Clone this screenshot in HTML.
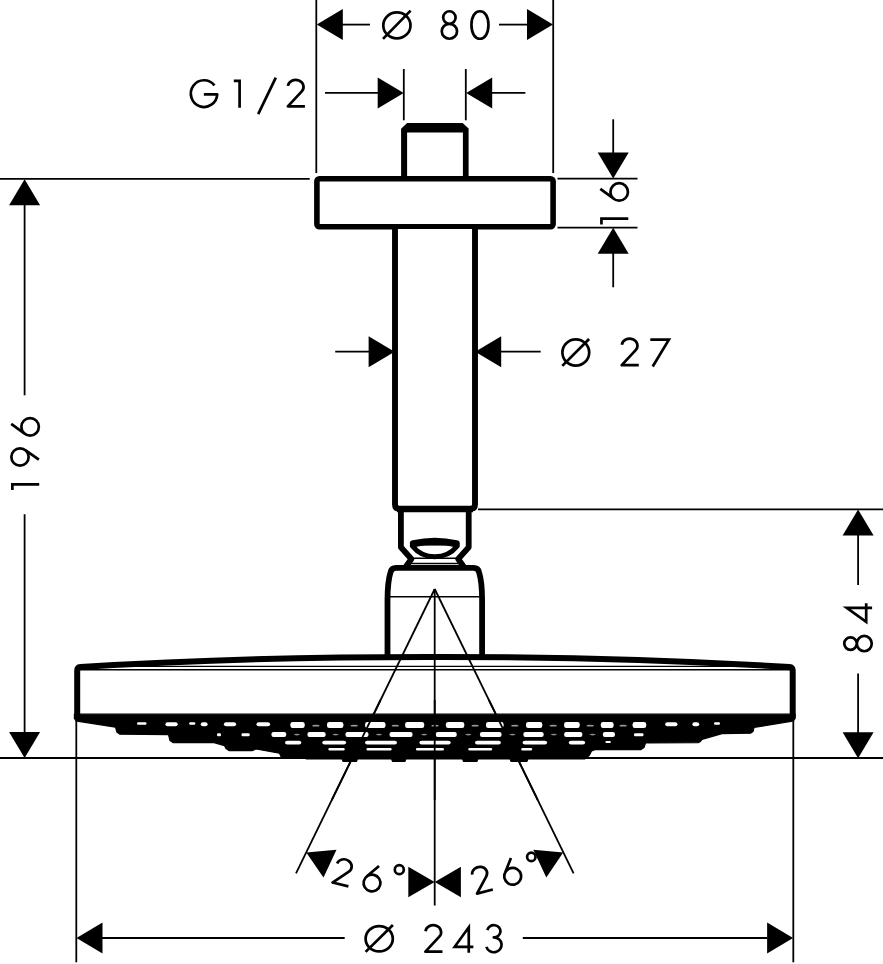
<!DOCTYPE html>
<html><head><meta charset="utf-8"><title>Dimension drawing</title>
<style>
html,body{margin:0;padding:0;background:#fff;}
body{width:883px;height:964px;overflow:hidden;font-family:"Liberation Sans",sans-serif;}
svg{display:block;}
</style></head><body>
<svg width="883" height="964" viewBox="0 0 883 964" role="img" aria-label="Dimension drawing of ceiling-mounted overhead shower">
<title>Overhead shower dimension drawing</title>
<desc>Dimensions: diameter 80, G1/2, 16, diameter 27, 196, 84, 26 degrees, 26 degrees, diameter 243</desc>
<line x1="316.30" y1="0.00" x2="316.30" y2="173.00" stroke="#000" stroke-width="1.8" stroke-linecap="butt"/>
<line x1="553.20" y1="0.00" x2="553.20" y2="173.00" stroke="#000" stroke-width="1.8" stroke-linecap="butt"/>
<polygon points="316.80,24.60 342.80,9.10 342.80,40.10" fill="#000"/>
<line x1="342.00" y1="24.60" x2="370.00" y2="24.60" stroke="#000" stroke-width="1.8" stroke-linecap="butt"/>
<polygon points="553.00,24.60 527.00,40.10 527.00,9.10" fill="#000"/>
<line x1="499.00" y1="24.60" x2="527.50" y2="24.60" stroke="#000" stroke-width="1.8" stroke-linecap="butt"/>
<ellipse cx="396.9" cy="25.4" rx="13.6" ry="13.0" fill="none" stroke="#000" stroke-width="2.7"/>
<line x1="383.00" y1="38.90" x2="410.60" y2="10.60" stroke="#000" stroke-width="2.7" stroke-linecap="butt"/>
<path transform="translate(440.40,39.10) rotate(0.00)" d="M2.80,-21.58 C2.80,-25.04 5.58,-27.85 9.00,-27.85 C12.42,-27.85 15.20,-25.04 15.20,-21.58 C15.20,-18.11 12.42,-15.30 9.00,-15.30 C5.58,-15.30 2.80,-18.11 2.80,-21.58 Z M1.35,-7.83 C1.35,-11.95 4.77,-15.30 9.00,-15.30 C13.23,-15.30 16.65,-11.95 16.65,-7.83 C16.65,-3.70 13.23,-0.35 9.00,-0.35 C4.77,-0.35 1.35,-3.70 1.35,-7.83 Z" fill="none" stroke="#000" stroke-width="2.7" stroke-linecap="butt" stroke-linejoin="round" stroke-miterlimit="10"/>
<path transform="translate(470.10,39.10) rotate(0.00)" d="M1.35,-14.10 C1.35,-22.35 4.75,-27.85 9.85,-27.85 C14.95,-27.85 18.35,-22.35 18.35,-14.10 C18.35,-5.85 14.95,-0.35 9.85,-0.35 C4.75,-0.35 1.35,-5.85 1.35,-14.10 Z" fill="none" stroke="#000" stroke-width="2.7" stroke-linecap="butt" stroke-linejoin="round" stroke-miterlimit="10"/>
<line x1="403.80" y1="69.00" x2="403.80" y2="120.30" stroke="#000" stroke-width="1.8" stroke-linecap="butt"/>
<line x1="465.80" y1="69.00" x2="465.80" y2="120.30" stroke="#000" stroke-width="1.8" stroke-linecap="butt"/>
<line x1="325.00" y1="92.90" x2="378.00" y2="92.90" stroke="#000" stroke-width="1.8" stroke-linecap="butt"/>
<polygon points="403.70,92.90 377.70,108.40 377.70,77.40" fill="#000"/>
<polygon points="466.20,92.90 492.20,77.40 492.20,108.40" fill="#000"/>
<line x1="491.00" y1="92.90" x2="525.40" y2="92.90" stroke="#000" stroke-width="1.8" stroke-linecap="butt"/>
<path transform="translate(189.50,107.70) rotate(0.00)" d="M24.95,-22.32 A13.2,13.35 0 1 0 27.73,-13.30 H14.35" fill="none" stroke="#000" stroke-width="2.7" stroke-linecap="butt" stroke-linejoin="round" stroke-miterlimit="10"/>
<path transform="translate(233.60,107.70) rotate(0.00)" d="M0.2,-26.85 H6 V0" fill="none" stroke="#000" stroke-width="2.7" stroke-linecap="butt" stroke-linejoin="miter" stroke-miterlimit="10"/>
<line x1="258.20" y1="114.20" x2="275.80" y2="77.60" stroke="#000" stroke-width="2.7" stroke-linecap="butt"/>
<path transform="translate(286.50,107.70) rotate(0.00)" d="M1.43,-21.82 A7.85,7.0 0 1 1 15.26,-16.40 L1.35,-1.35 H18.4" fill="none" stroke="#000" stroke-width="2.7" stroke-linecap="butt" stroke-linejoin="round" stroke-miterlimit="10"/>
<line x1="0.00" y1="178.80" x2="309.70" y2="178.80" stroke="#000" stroke-width="1.8" stroke-linecap="butt"/>
<line x1="557.50" y1="178.70" x2="637.50" y2="178.70" stroke="#000" stroke-width="1.8" stroke-linecap="butt"/>
<line x1="557.50" y1="227.60" x2="637.50" y2="227.60" stroke="#000" stroke-width="1.8" stroke-linecap="butt"/>
<line x1="613.20" y1="119.30" x2="613.20" y2="153.50" stroke="#000" stroke-width="1.8" stroke-linecap="butt"/>
<polygon points="613.20,178.60 597.70,152.60 628.70,152.60" fill="#000"/>
<polygon points="613.20,227.80 628.70,253.80 597.70,253.80" fill="#000"/>
<line x1="613.20" y1="253.00" x2="613.20" y2="287.30" stroke="#000" stroke-width="1.8" stroke-linecap="butt"/>
<path transform="translate(628.30,224.70) rotate(-90.00)" d="M0.2,-26.85 H6 V0" fill="none" stroke="#000" stroke-width="2.7" stroke-linecap="butt" stroke-linejoin="miter" stroke-miterlimit="10"/>
<path transform="translate(628.30,202.00) rotate(-90.00)" d="M13.10,-28.00 L3.04,-14.27 M1.35,-9.10 C1.35,-13.93 5.27,-17.85 10.10,-17.85 C14.93,-17.85 18.85,-13.93 18.85,-9.10 C18.85,-4.27 14.93,-0.35 10.10,-0.35 C5.27,-0.35 1.35,-4.27 1.35,-9.10 Z" fill="none" stroke="#000" stroke-width="2.7" stroke-linecap="butt" stroke-linejoin="round" stroke-miterlimit="10"/>
<polygon points="24.60,179.20 40.10,205.20 9.10,205.20" fill="#000"/>
<line x1="24.60" y1="204.00" x2="24.60" y2="395.30" stroke="#000" stroke-width="1.8" stroke-linecap="butt"/>
<line x1="24.60" y1="514.20" x2="24.60" y2="733.00" stroke="#000" stroke-width="1.8" stroke-linecap="butt"/>
<polygon points="24.60,758.00 9.10,732.00 40.10,732.00" fill="#000"/>
<path transform="translate(39.20,490.30) rotate(-90.00)" d="M0.2,-26.85 H6 V0" fill="none" stroke="#000" stroke-width="2.7" stroke-linecap="butt" stroke-linejoin="miter" stroke-miterlimit="10"/>
<path transform="translate(39.20,467.00) rotate(-90.00)" d="M7.30,-0.30 L17.08,-14.23 M1.35,-19.20 C1.35,-23.98 5.22,-27.85 10.00,-27.85 C14.78,-27.85 18.65,-23.98 18.65,-19.20 C18.65,-14.42 14.78,-10.55 10.00,-10.55 C5.22,-10.55 1.35,-14.42 1.35,-19.20 Z" fill="none" stroke="#000" stroke-width="2.7" stroke-linecap="butt" stroke-linejoin="round" stroke-miterlimit="10"/>
<path transform="translate(39.20,436.90) rotate(-90.00)" d="M13.10,-28.00 L3.04,-14.27 M1.35,-9.10 C1.35,-13.93 5.27,-17.85 10.10,-17.85 C14.93,-17.85 18.85,-13.93 18.85,-9.10 C18.85,-4.27 14.93,-0.35 10.10,-0.35 C5.27,-0.35 1.35,-4.27 1.35,-9.10 Z" fill="none" stroke="#000" stroke-width="2.7" stroke-linecap="butt" stroke-linejoin="round" stroke-miterlimit="10"/>
<line x1="0.00" y1="758.00" x2="883.00" y2="758.00" stroke="#000" stroke-width="1.8" stroke-linecap="butt"/>
<line x1="335.20" y1="351.70" x2="369.50" y2="351.70" stroke="#000" stroke-width="1.8" stroke-linecap="butt"/>
<polygon points="394.60,351.70 368.60,367.20 368.60,336.20" fill="#000"/>
<polygon points="475.20,351.70 501.20,336.20 501.20,367.20" fill="#000"/>
<line x1="500.00" y1="351.70" x2="540.70" y2="351.70" stroke="#000" stroke-width="1.8" stroke-linecap="butt"/>
<ellipse cx="575.8" cy="352.5" rx="13.4" ry="13.2" fill="none" stroke="#000" stroke-width="2.7"/>
<line x1="562.30" y1="365.90" x2="589.10" y2="339.00" stroke="#000" stroke-width="2.7" stroke-linecap="butt"/>
<path transform="translate(620.40,366.50) rotate(0.00)" d="M1.43,-21.82 A7.85,7.0 0 1 1 15.26,-16.40 L1.35,-1.35 H18.4" fill="none" stroke="#000" stroke-width="2.7" stroke-linecap="butt" stroke-linejoin="round" stroke-miterlimit="10"/>
<path transform="translate(650.30,366.50) rotate(0.00)" d="M0,-26.85 H18.6 L2.4,0" fill="none" stroke="#000" stroke-width="2.7" stroke-linecap="butt" stroke-linejoin="miter" stroke-miterlimit="10"/>
<line x1="478.00" y1="509.30" x2="883.00" y2="509.30" stroke="#000" stroke-width="1.8" stroke-linecap="butt"/>
<polygon points="858.10,509.60 873.60,535.60 842.60,535.60" fill="#000"/>
<line x1="858.10" y1="535.00" x2="858.10" y2="584.90" stroke="#000" stroke-width="1.8" stroke-linecap="butt"/>
<line x1="858.10" y1="673.60" x2="858.10" y2="733.00" stroke="#000" stroke-width="1.8" stroke-linecap="butt"/>
<polygon points="858.10,758.20 842.60,732.20 873.60,732.20" fill="#000"/>
<path transform="translate(872.10,623.80) rotate(-90.00)" d="M16.0,0 V-25.4 L1.9,-5.9 H20.6" fill="none" stroke="#000" stroke-width="2.7" stroke-linecap="butt" stroke-linejoin="miter" stroke-miterlimit="10"/>
<path transform="translate(872.10,652.60) rotate(-90.00)" d="M2.80,-21.58 C2.80,-25.04 5.58,-27.85 9.00,-27.85 C12.42,-27.85 15.20,-25.04 15.20,-21.58 C15.20,-18.11 12.42,-15.30 9.00,-15.30 C5.58,-15.30 2.80,-18.11 2.80,-21.58 Z M1.35,-7.83 C1.35,-11.95 4.77,-15.30 9.00,-15.30 C13.23,-15.30 16.65,-11.95 16.65,-7.83 C16.65,-3.70 13.23,-0.35 9.00,-0.35 C4.77,-0.35 1.35,-3.70 1.35,-7.83 Z" fill="none" stroke="#000" stroke-width="2.7" stroke-linecap="butt" stroke-linejoin="round" stroke-miterlimit="10"/>
<line x1="76.30" y1="720.00" x2="76.30" y2="962.30" stroke="#000" stroke-width="1.8" stroke-linecap="butt"/>
<line x1="793.30" y1="720.00" x2="793.30" y2="962.30" stroke="#000" stroke-width="1.8" stroke-linecap="butt"/>
<polygon points="76.50,938.00 102.50,922.50 102.50,953.50" fill="#000"/>
<line x1="102.00" y1="938.00" x2="344.70" y2="938.00" stroke="#000" stroke-width="1.8" stroke-linecap="butt"/>
<line x1="522.80" y1="938.00" x2="767.50" y2="938.00" stroke="#000" stroke-width="1.8" stroke-linecap="butt"/>
<polygon points="793.10,938.00 767.10,953.50 767.10,922.50" fill="#000"/>
<ellipse cx="379.2" cy="938.8" rx="13.6" ry="12.65" fill="none" stroke="#000" stroke-width="2.7"/>
<line x1="365.60" y1="951.90" x2="392.90" y2="925.00" stroke="#000" stroke-width="2.7" stroke-linecap="butt"/>
<path transform="translate(424.06,953.05) rotate(0.00)" d="M1.43,-21.82 A7.85,7.0 0 1 1 15.26,-16.40 L1.35,-1.35 H18.4" fill="none" stroke="#000" stroke-width="2.7" stroke-linecap="butt" stroke-linejoin="round" stroke-miterlimit="10"/>
<path transform="translate(452.76,952.70) rotate(0.00)" d="M16.0,0 V-25.4 L1.9,-5.9 H20.6" fill="none" stroke="#000" stroke-width="2.7" stroke-linecap="butt" stroke-linejoin="miter" stroke-miterlimit="10"/>
<path transform="translate(484.70,952.70) rotate(0.00)" d="M2.6,-22.6 A6.65,6.1 0 1 1 9.1,-15.3 A7.75,7.43 0 1 1 1.7,-5.8" fill="none" stroke="#000" stroke-width="2.7" stroke-linecap="butt" stroke-linejoin="round" stroke-miterlimit="10"/>
<line x1="434.70" y1="589.00" x2="434.70" y2="905.60" stroke="#000" stroke-width="1.8" stroke-linecap="butt"/>
<line x1="434.70" y1="589.00" x2="296.00" y2="873.40" stroke="#000" stroke-width="1.8" stroke-linecap="butt"/>
<line x1="434.70" y1="589.00" x2="573.60" y2="873.40" stroke="#000" stroke-width="1.8" stroke-linecap="butt"/>
<polygon points="306.30,852.50 336.50,849.80 323.50,877.60" fill="#000"/>
<polygon points="563.20,852.50 533.30,849.80 546.30,877.60" fill="#000"/>
<polygon points="434.60,881.90 408.30,866.70 408.30,897.30" fill="#000"/>
<polygon points="434.80,881.90 460.90,866.80 460.90,897.30" fill="#000"/>
<path transform="translate(330.94,883.46) rotate(13.50) scale(0.96)" d="M1.43,-21.82 A7.85,7.0 0 1 1 15.26,-16.40 L1.35,-1.35 H18.4" fill="none" stroke="#000" stroke-width="2.813" stroke-linecap="butt" stroke-linejoin="round"/>
<path transform="translate(360.53,889.23) rotate(13.50) scale(0.96)" d="M13.10,-28.00 L3.04,-14.27 M1.35,-9.10 C1.35,-13.93 5.27,-17.85 10.10,-17.85 C14.93,-17.85 18.85,-13.93 18.85,-9.10 C18.85,-4.27 14.93,-0.35 10.10,-0.35 C5.27,-0.35 1.35,-4.27 1.35,-9.10 Z" fill="none" stroke="#000" stroke-width="2.813" stroke-linecap="butt" stroke-linejoin="round"/>
<path transform="translate(476.07,895.18) rotate(-14.50) scale(0.96)" d="M1.43,-21.82 A7.85,7.0 0 1 1 15.26,-16.40 L1.35,-1.35 H18.4" fill="none" stroke="#000" stroke-width="2.813" stroke-linecap="butt" stroke-linejoin="round"/>
<path transform="translate(505.50,887.19) rotate(-14.50) scale(0.96)" d="M13.10,-28.00 L3.04,-14.27 M1.35,-9.10 C1.35,-13.93 5.27,-17.85 10.10,-17.85 C14.93,-17.85 18.85,-13.93 18.85,-9.10 C18.85,-4.27 14.93,-0.35 10.10,-0.35 C5.27,-0.35 1.35,-4.27 1.35,-9.10 Z" fill="none" stroke="#000" stroke-width="2.813" stroke-linecap="butt" stroke-linejoin="round"/>
<circle cx="399.3" cy="869.7" r="4.5" fill="none" stroke="#000" stroke-width="2.7"/>
<circle cx="531.3" cy="856.9" r="4.2" fill="none" stroke="#000" stroke-width="2.7"/>
<path fill="#000" fill-rule="evenodd" d="M401.1,177 V128.7 L407.1,123 H462.6 L468.6,128.4 V177 Z M407.1,177 V132.6 H462.9 V177 Z"/>
<rect x="316.9" y="178.8" width="236.2" height="47.9" rx="2.5" ry="2.5" fill="#fff" stroke="#000" stroke-width="5.6"/>
<path d="M395,229 V504.5 Q395,508.6 399,508.6 H471 Q475,508.6 475,504.5 V229" fill="#fff" stroke="#000" stroke-width="5.9" stroke-linecap="butt" stroke-linejoin="round"/>
<path d="M400.9,510 V547.3 L411.4,559.0 L406.2,566.3 M468.7,510 V547.3 L458.2,559.0 L463.4,566.3" fill="none" stroke="#000" stroke-width="5.8" stroke-linecap="round" stroke-linejoin="round"/>
<line x1="397.00" y1="509.60" x2="473.00" y2="509.60" stroke="#000" stroke-width="5.2" stroke-linecap="butt"/>
<line x1="413.00" y1="558.30" x2="456.60" y2="558.30" stroke="#000" stroke-width="1.5" stroke-linecap="butt"/>
<line x1="411.00" y1="563.40" x2="458.60" y2="563.40" stroke="#000" stroke-width="1.5" stroke-linecap="butt"/>
<path d="M413.4,543.7 Q434.8,538.8 456.2,543.7" fill="none" stroke="#000" stroke-width="7.2" stroke-linecap="round" stroke-linejoin="round"/>
<rect x="413" y="542" width="43.6" height="3.6" fill="#000"/>
<path d="M412.3,546.0 A28.9,28.9 0 0 0 457.3,546.0" fill="none" stroke="#000" stroke-width="5.0" stroke-linecap="round" stroke-linejoin="round"/>
<path d="M387.5,657 V600 Q387.5,582 390.6,572 Q391.6,567.9 396,567.9 H473.6 Q478,567.9 479,572 Q482.1,582 482.1,600 V657" fill="none" stroke="#000" stroke-width="5.8" stroke-linecap="butt" stroke-linejoin="round"/>
<line x1="390.00" y1="596.70" x2="479.60" y2="596.70" stroke="#000" stroke-width="1.5" stroke-linecap="butt"/>
<path d="M77.2,717.5 V670.7 Q77.2,667.3 80.5,667.0 Q250,656.7 434.7,656.9 Q620,656.7 789.4,667.0 Q792.7,667.3 792.7,670.7 V717.5" fill="none" stroke="#000" stroke-width="6.0" stroke-linecap="butt" stroke-linejoin="round"/>
<line x1="79.00" y1="666.30" x2="790.50" y2="666.30" stroke="#000" stroke-width="1.3" stroke-linecap="butt"/>
<line x1="79.00" y1="669.70" x2="790.50" y2="669.70" stroke="#000" stroke-width="1.4" stroke-linecap="butt"/>
<path d="M74.4,714.2 L795.1,714.2 L795.1,718.5 L793.5,720.6 L791,721.3 L754,727.5 L753,731.5 L750.5,733.2 L722,733.6 L702,739.3 L700.5,741.5 L698,742.6 L645.5,743.0 L644,747.5 L641,749.6 L595,749.6 L591.5,751 L589.5,755 L587.5,757 L585,758.8 L528,758.8 L527,761.4 L511,761.4 L510,758.8 L478,758.8 L477,761.4 L463.5,761.4 L462.5,758.8 L406,758.8 L405,761.4 L392.5,761.4 L391.5,758.8 L357.5,758.8 L356.5,761.4 L343,761.4 L342,758.8 L306,758.8 L305,757.2 L283,757.2 L281,756.5 L279.5,753.2 L256,749 L252,750.6 L229,750.6 L226,748.5 L224.5,745.6 L214,742.6 L173,742.6 L170,740.5 L168.5,734.6 L120,734.2 L117,732.3 L115.5,727.2 L78.5,721.3 L76,720.6 L74.4,718.5 Z" fill="#000" stroke="#000" stroke-width="1.2" stroke-linejoin="round"/>
<rect x="290.4" y="722.0" width="14.3" height="5.9" rx="2.2" ry="2.2" fill="#fff"/>
<rect x="327.0" y="722.0" width="16.4" height="5.9" rx="2.2" ry="2.2" fill="#fff"/>
<rect x="365.1" y="722.0" width="20.4" height="5.9" rx="2.2" ry="2.2" fill="#fff"/>
<rect x="405.1" y="722.0" width="19.1" height="5.9" rx="2.2" ry="2.2" fill="#fff"/>
<rect x="445.9" y="722.0" width="18.4" height="5.9" rx="2.2" ry="2.2" fill="#fff"/>
<rect x="486.0" y="722.0" width="17.6" height="5.9" rx="2.2" ry="2.2" fill="#fff"/>
<rect x="526.0" y="722.0" width="16.3" height="5.9" rx="2.2" ry="2.2" fill="#fff"/>
<rect x="564.1" y="722.0" width="15.6" height="5.9" rx="2.2" ry="2.2" fill="#fff"/>
<rect x="600.8" y="722.0" width="12.8" height="5.9" rx="2.2" ry="2.2" fill="#fff"/>
<rect x="632.6" y="722.0" width="13.6" height="5.9" rx="2.2" ry="2.2" fill="#fff"/>
<rect x="165.4" y="722.2" width="12.3" height="4.0" rx="2.2" ry="2.2" fill="#fff"/>
<rect x="200.8" y="722.2" width="6.8" height="4.0" rx="2.2" ry="2.2" fill="#fff"/>
<rect x="223.9" y="722.2" width="12.2" height="4.0" rx="2.2" ry="2.2" fill="#fff"/>
<rect x="256.5" y="722.2" width="13.6" height="4.0" rx="2.2" ry="2.2" fill="#fff"/>
<rect x="665.2" y="722.2" width="12.3" height="4.0" rx="2.2" ry="2.2" fill="#fff"/>
<rect x="692.4" y="722.2" width="6.8" height="4.0" rx="2.2" ry="2.2" fill="#fff"/>
<rect x="137.0" y="722.2" width="9.5" height="2.6" rx="1.2" ry="1.2" fill="#fff"/>
<rect x="189.2" y="722.2" width="6.1" height="2.6" rx="1.2" ry="1.2" fill="#fff"/>
<rect x="714.0" y="722.2" width="6.0" height="2.6" rx="1.2" ry="1.2" fill="#fff"/>
<rect x="271.4" y="732.0" width="14.9" height="4.9" rx="2.2" ry="2.2" fill="#fff"/>
<rect x="307.4" y="732.0" width="18.3" height="4.9" rx="2.2" ry="2.2" fill="#fff"/>
<rect x="345.4" y="732.0" width="23.1" height="4.9" rx="2.2" ry="2.2" fill="#fff"/>
<rect x="389.5" y="732.0" width="23.1" height="4.9" rx="2.2" ry="2.2" fill="#fff"/>
<rect x="435.7" y="732.0" width="21.1" height="4.9" rx="2.2" ry="2.2" fill="#fff"/>
<rect x="479.9" y="732.0" width="21.7" height="4.9" rx="2.2" ry="2.2" fill="#fff"/>
<rect x="523.3" y="732.0" width="20.4" height="4.9" rx="2.2" ry="2.2" fill="#fff"/>
<rect x="564.1" y="732.0" width="18.3" height="4.9" rx="2.2" ry="2.2" fill="#fff"/>
<rect x="602.8" y="732.0" width="12.2" height="4.9" rx="2.2" ry="2.2" fill="#fff"/>
<rect x="217.0" y="733.2" width="4.0" height="3.0" rx="1.2" ry="1.2" fill="#fff"/>
<rect x="241.5" y="733.2" width="8.2" height="3.0" rx="1.2" ry="1.2" fill="#fff"/>
<rect x="634.0" y="733.2" width="9.5" height="3.0" rx="1.2" ry="1.2" fill="#fff"/>
<rect x="285.0" y="740.7" width="16.3" height="3.7" rx="2.2" ry="2.2" fill="#fff"/>
<rect x="322.3" y="740.7" width="23.8" height="3.7" rx="2.2" ry="2.2" fill="#fff"/>
<rect x="365.0" y="740.7" width="32.0" height="3.7" rx="2.2" ry="2.2" fill="#fff"/>
<rect x="419.4" y="740.7" width="31.3" height="3.7" rx="2.2" ry="2.2" fill="#fff"/>
<rect x="475.0" y="740.7" width="25.9" height="3.7" rx="2.2" ry="2.2" fill="#fff"/>
<rect x="522.6" y="740.7" width="24.5" height="3.7" rx="2.2" ry="2.2" fill="#fff"/>
<rect x="568.8" y="740.7" width="16.3" height="3.7" rx="2.2" ry="2.2" fill="#fff"/>
<rect x="605.4" y="741.0" width="5.5" height="2.0" rx="1" ry="1" fill="#fff"/>
<rect x="328.4" y="747.9" width="16.3" height="2.6" rx="1.2" ry="1.2" fill="#fff"/>
<rect x="366.5" y="747.9" width="25.1" height="2.6" rx="1.2" ry="1.2" fill="#fff"/>
<rect x="416.0" y="747.9" width="27.9" height="2.6" rx="1.2" ry="1.2" fill="#fff"/>
<rect x="468.3" y="747.9" width="23.8" height="2.6" rx="1.2" ry="1.2" fill="#fff"/>
<rect x="521.3" y="747.9" width="10.8" height="2.6" rx="1.2" ry="1.2" fill="#fff"/>
<ellipse cx="315.9" cy="725.7" rx="3.6" ry="0.9" fill="#9a9a9a"/>
<ellipse cx="354.2" cy="725.7" rx="3.6" ry="0.9" fill="#9a9a9a"/>
<ellipse cx="395.3" cy="725.7" rx="3.6" ry="0.9" fill="#9a9a9a"/>
<ellipse cx="435.0" cy="725.7" rx="3.6" ry="0.9" fill="#9a9a9a"/>
<ellipse cx="475.1" cy="725.7" rx="3.6" ry="0.9" fill="#9a9a9a"/>
<ellipse cx="514.8" cy="725.7" rx="3.6" ry="0.9" fill="#9a9a9a"/>
<ellipse cx="553.2" cy="725.7" rx="3.6" ry="0.9" fill="#9a9a9a"/>
<ellipse cx="590.2" cy="725.7" rx="3.6" ry="0.9" fill="#9a9a9a"/>
<ellipse cx="623.1" cy="725.7" rx="3.6" ry="0.9" fill="#9a9a9a"/>
<ellipse cx="296.9" cy="734.6" rx="3.0" ry="0.8" fill="#8a8a8a"/>
<ellipse cx="335.5" cy="734.6" rx="3.0" ry="0.8" fill="#8a8a8a"/>
<ellipse cx="379.0" cy="734.6" rx="3.0" ry="0.8" fill="#8a8a8a"/>
<ellipse cx="424.1" cy="734.6" rx="3.0" ry="0.8" fill="#8a8a8a"/>
<ellipse cx="468.4" cy="734.6" rx="3.0" ry="0.8" fill="#8a8a8a"/>
<ellipse cx="512.5" cy="734.6" rx="3.0" ry="0.8" fill="#8a8a8a"/>
<ellipse cx="553.9" cy="734.6" rx="3.0" ry="0.8" fill="#8a8a8a"/>
<ellipse cx="592.6" cy="734.6" rx="3.0" ry="0.8" fill="#8a8a8a"/>
<line x1="434.70" y1="700.00" x2="434.70" y2="800.00" stroke="#000" stroke-width="1.8" stroke-linecap="butt"/>
<line x1="380.57" y1="700.00" x2="331.80" y2="800.00" stroke="#000" stroke-width="1.8" stroke-linecap="butt"/>
<line x1="488.91" y1="700.00" x2="537.75" y2="800.00" stroke="#000" stroke-width="1.8" stroke-linecap="butt"/>
<line x1="0.00" y1="758.00" x2="883.00" y2="758.00" stroke="#000" stroke-width="1.8" stroke-linecap="butt"/>
</svg>
</body></html>
